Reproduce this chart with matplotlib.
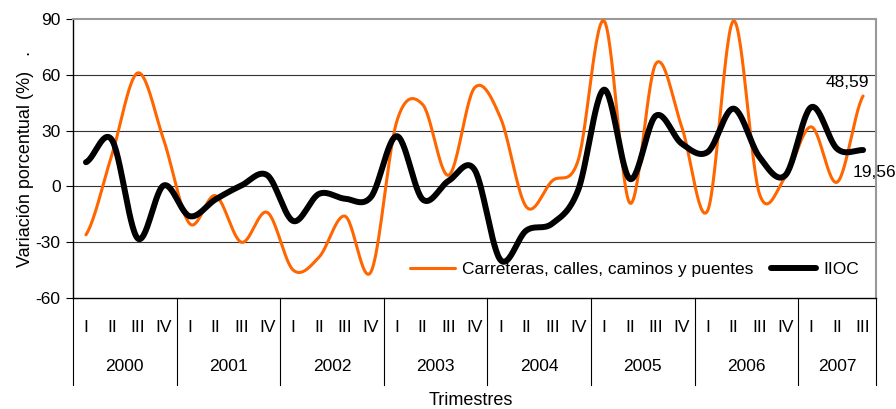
import numpy as np
import matplotlib.pyplot as plt
import matplotlib.transforms as mtransforms

plt.rcParams['font.family'] = ['Liberation Sans', 'DejaVu Sans']
plt.rcParams['axes.unicode_minus'] = False

years = ['2000', '2001', '2002', '2003', '2004', '2005', '2006', '2007']
quarters_per_year = [4, 4, 4, 4, 4, 4, 4, 3]
roman = ['I', 'II', 'III', 'IV']

carreteras = [-26, 17, 61, 25, -20, -5, -30, -14, -45, -38, -16, -46,
              35, 44, 6, 53, 37, -11, 3, 14, 89, -9, 66, 32,
              -13, 89, -4, 5, 32, 2.3, 48.59]
iioc = [13, 25, -28, 0.5, -16, -7, 0.5, 6, -18.6, -4, -6.6, -5.7,
        27, -7, 3, 9, -39.5, -23.7, -20, -2, 52, 4, 38, 23,
        18.5, 41.8, 15.8, 6, 42.6, 20.2, 19.56]


def smooth(y, n=30):
    # Catmull-Rom style curve through every point, like a smoothed line chart
    y = np.asarray(y, dtype=float)
    p = np.concatenate([[y[0]], y, [y[-1]]])
    xs, ys = [], []
    t = np.linspace(0, 1, n, endpoint=False)
    for i in range(len(y) - 1):
        p0, p1, p2, p3 = p[i], p[i + 1], p[i + 2], p[i + 3]
        c1 = p1 + (p2 - p0) / 6
        c2 = p2 - (p3 - p1) / 6
        b = ((1 - t) ** 3 * p1 + 3 * (1 - t) ** 2 * t * c1
             + 3 * (1 - t) * t ** 2 * c2 + t ** 3 * p2)
        xs.append(i + t)
        ys.append(b)
    xs.append([len(y) - 1])
    ys.append([y[-1]])
    return np.concatenate(xs), np.concatenate(ys)


fig = plt.figure(figsize=(8.96, 4.09), dpi=100)
ax = fig.add_axes([0.0815, 0.2714, 0.8962, 0.6821])

x1, y1 = smooth(carreteras)
x2, y2 = smooth(iioc)
ax.plot(x1, y1, color='#FF6600', lw=2.2, solid_capstyle='round',
        label='Carreteras, calles, caminos y puentes', zorder=3)
ax.plot(x2, y2, color='black', lw=4.3, solid_capstyle='round',
        label='IIOC', zorder=4)

n = len(carreteras)
ax.set_xlim(-0.5, n - 0.5)
ax.set_ylim(-60, 90)
ax.set_yticks(np.arange(-60, 91, 30))
ax.tick_params(axis='y', direction='out', length=5, labelsize=12.5, pad=4)
ax.set_xticks([])
for yv in [-30, 0, 30, 60]:
    ax.axhline(yv, color='#333333', lw=0.8, zorder=1)
ax.spines['top'].set_color('#999999')
ax.spines['right'].set_color('#999999')
ax.spines['top'].set_linewidth(1.5)
ax.spines['right'].set_linewidth(1.5)
ax.spines['left'].set_linewidth(1.0)
ax.spines['bottom'].set_linewidth(1.0)

# two-level category axis: quarters and years
trans = mtransforms.blended_transform_factory(ax.transData, ax.transAxes)
pos = 0
for yr, nq in zip(years, quarters_per_year):
    for q in range(nq):
        ax.text(pos + q, -0.104, roman[q], transform=trans, ha='center',
                va='center', fontsize=12.5, fontstretch='condensed')
    ax.text(pos + (nq - 1) / 2, -0.247, yr, transform=trans, ha='center',
            va='center', fontsize=12.5)
    ax.plot([pos - 0.5, pos - 0.5], [0, -0.312], transform=trans,
            color='black', lw=0.8, clip_on=False)
    pos += nq
ax.plot([pos - 0.5, pos - 0.5], [0, -0.312], transform=trans,
        color='black', lw=0.8, clip_on=False)

ax.set_ylabel('Variación porcentual (%)   .', fontsize=13, labelpad=1)
fig.text(0.525, 0.022, 'Trimestres', fontsize=13, ha='center', va='center')

ax.annotate('48,59', (n - 1, carreteras[-1]), xytext=(-11, 10),
            textcoords='offset points', ha='center', va='center', fontsize=12.5)
ax.annotate('19,56', (n - 1, iioc[-1]), xytext=(8, -16),
            textcoords='offset points', ha='center', va='center', fontsize=12.5)

leg = ax.legend(loc='lower right', bbox_to_anchor=(0.998, 0.02), ncol=2,
                frameon=False, fontsize=12.5, handlelength=2.6,
                columnspacing=1.0, handletextpad=0.4)

fig.savefig('out.png', dpi=100)
